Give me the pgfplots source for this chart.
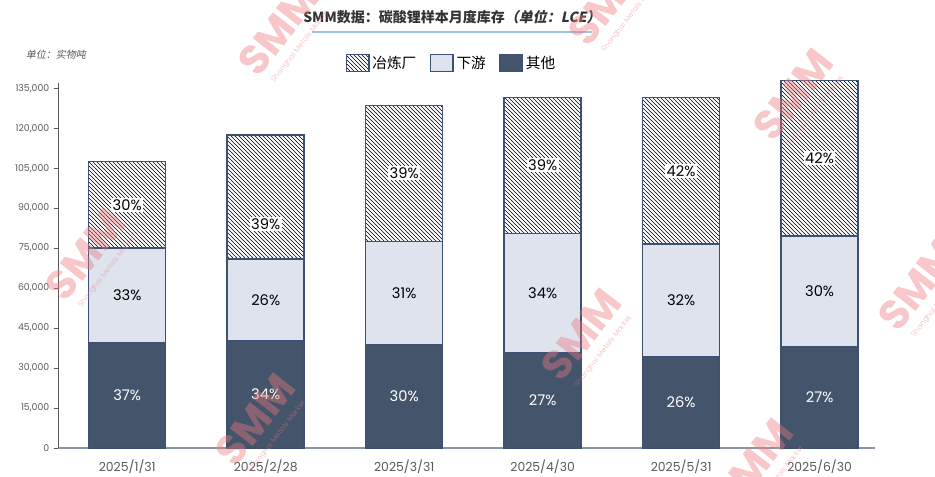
\documentclass[border=0pt]{standalone}
\usepackage{pgfplots}
\pgfplotsset{compat=1.18}
\usetikzlibrary{patterns}
\usepackage{fontspec}
\setmainfont{Poppins}
\newfontfamily\cjk{Noto Sans CJK SC}

\definecolor{otherc}{HTML}{44546A}
\definecolor{downc}{HTML}{DEE3EE}
\definecolor{edgec}{HTML}{3D5175}
\definecolor{tickc}{HTML}{595959}
\definecolor{titlec}{HTML}{333333}
\definecolor{linec}{HTML}{9DC3E6}
\definecolor{xaxc}{HTML}{8C93A3}
\definecolor{wmc}{HTML}{EC7A80}

\tikzset{
  pct/.style={font=\fontsize{11}{12}\selectfont, text=black},
  pctw/.style={pct, text=white},
  pcth/.style={pct, fill=white, inner sep=1pt},
}
% watermark
\newcommand\wm[2]{\node[rotate=52, text=wmc, opacity=0.42, align=center, inner sep=0pt]
  at (#1,#2) {{\fontsize{31}{26}\selectfont\bfseries SMM}\\[-1pt]{\fontsize{5.5}{6}\selectfont Shanghai Metals Market}};}

\begin{document}
\begin{tikzpicture}[x=1pt,y=1pt]
\path[use as bounding box] (-43.5,-21.75) rectangle (657.75,336);
\begin{axis}[
  scale only axis,
  width=612.75pt, height=273.75pt,
  ybar stacked,
  bar width=0.556,
  xmin=-0.5, xmax=5.4,
  ymin=0, ymax=137000,
  clip=false,
  axis x line*=bottom,
  axis y line*=left,
  x axis line style={draw=xaxc, line width=1.3pt, -},
  y axis line style={draw=tickc, line width=0.6pt, -},
  xtick=data,
  xticklabels={2025/1/31,2025/2/28,2025/3/31,2025/4/30,2025/5/31,2025/6/30},
  xtick style={draw=none},
  xticklabel style={font=\fontsize{9.3}{10}\selectfont, text=tickc, yshift=-2pt},
  ytick={0,15000,...,135000},
  ytick style={draw=tickc, line width=0.6pt},
  tick align=outside,
  major tick length=3pt,
  yticklabel style={font=\fontsize{7}{8}\selectfont, text=tickc},
  scaled y ticks=false,
  /pgf/number format/.cd, fixed, 1000 sep={,}, assume math mode=true,
  /pgfplots/.cd,
  reverse legend,
  legend columns=-1,
  legend style={at={(0.482,1.055)}, anchor=center, draw=none, fill=none,
    font=\cjk\fontsize{11}{12}\selectfont,
    /tikz/every even column/.append style={column sep=8pt}},
  legend image code/.code={\draw[#1] (0pt,-6.5pt) rectangle (17pt,6.5pt);},
]
\addplot[fill=otherc, draw=edgec, line width=1.1pt] coordinates
  {(0,39400) (1,40100) (2,38600) (3,35600) (4,34100) (5,37900)};
\addlegendentry{其他}
\addplot[fill=downc, draw=edgec, line width=1.1pt] coordinates
  {(0,35600) (1,30800) (2,39000) (3,45000) (4,42400) (5,41600)};
\addlegendentry{下游}
\addplot[pattern=north west lines, pattern color=black, draw=edgec, line width=1.1pt] coordinates
  {(0,32600) (1,46500) (2,51000) (3,51000) (4,55100) (5,58500)};
\addlegendentry{冶炼厂}

% label positions (segment middles)
\coordinate (o0) at (axis cs:0,19700);
\coordinate (o1) at (axis cs:1,20050);
\coordinate (o2) at (axis cs:2,19300);
\coordinate (o3) at (axis cs:3,17800);
\coordinate (o4) at (axis cs:4,17050);
\coordinate (o5) at (axis cs:5,18950);
\coordinate (d0) at (axis cs:0,57200);
\coordinate (d1) at (axis cs:1,55500);
\coordinate (d2) at (axis cs:2,58100);
\coordinate (d3) at (axis cs:3,58100);
\coordinate (d4) at (axis cs:4,55300);
\coordinate (d5) at (axis cs:5,58700);
\coordinate (s0) at (axis cs:0,91300);
\coordinate (s1) at (axis cs:1,84000);
\coordinate (s2) at (axis cs:2,103100);
\coordinate (s3) at (axis cs:3,106100);
\coordinate (s4) at (axis cs:4,104050);
\coordinate (s5) at (axis cs:5,108750);
\end{axis}

\node[pctw] at (o0) {37\%};
\node[pctw] at (o1) {34\%};
\node[pctw] at (o2) {30\%};
\node[pctw] at (o3) {27\%};
\node[pctw] at (o4) {26\%};
\node[pctw] at (o5) {27\%};
\node[pct] at (d0) {33\%};
\node[pct] at (d1) {26\%};
\node[pct] at (d2) {31\%};
\node[pct] at (d3) {34\%};
\node[pct] at (d4) {32\%};
\node[pct] at (d5) {30\%};
\node[pcth] at (s0) {30\%};
\node[pcth] at (s1) {39\%};
\node[pcth] at (s2) {39\%};
\node[pcth] at (s3) {39\%};
\node[pcth] at (s4) {42\%};
\node[pcth] at (s5) {42\%};

% title and unit
\node[text=titlec] at (295.5,323.25)
  {\cjk\fontsize{10.5}{12}\selectfont\bfseries SMM数据：碳酸锂样本月度库存{\addfontfeature{FakeSlant=0.2}（单位：LCE）}};
\draw[linec, line width=1pt] (190.5,312) -- (400.5,312);
\node[text=tickc] at (-1.5,294.75)
  {\cjk\addfontfeature{FakeSlant=0.2}\fontsize{7.5}{8}\selectfont 单位：实物吨};

% watermarks
\wm{25.5}{141}
\wm{397.5}{81}
\wm{170.25}{309.75}
\wm{556.5}{261}
\wm{153}{17.25}
\wm{650.25}{118.5}
\wm{526.5}{-16.5}
\wm{417.75}{332.25}
\end{tikzpicture}
\end{document}
